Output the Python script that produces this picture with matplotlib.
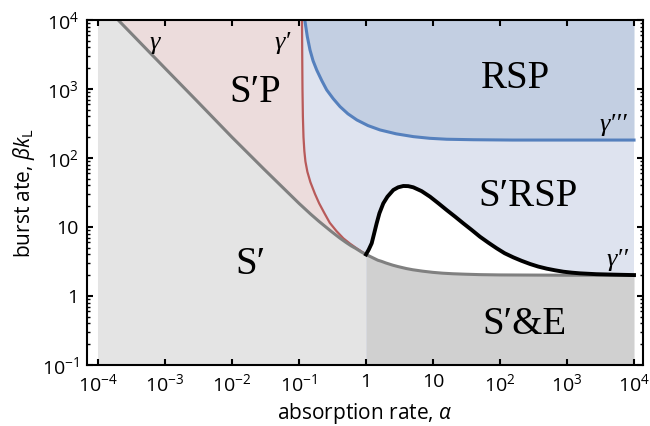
import matplotlib
matplotlib.use("Agg")
import matplotlib.pyplot as plt
import numpy as np

# ---------------- data ----------------
# gamma (grey boundary)
gamma_x = [2e-4, 5e-4, 1e-3, 3e-3, 1e-2, 3e-2, 0.1, 0.15, 0.2, 0.3, 0.4, 0.5, 0.6,
           0.7, 0.85, 1.0, 1.2, 1.5, 1.7, 2, 2.5, 3, 4, 5, 7, 10, 14, 20, 30, 50,
           100, 1e3, 1e4]
gamma_y = [1e4, 4000, 2000, 670, 200, 69, 22, 15.3, 12, 8.7, 7.0, 6.0, 5.33,
           4.9, 4.35, 4.0, 3.67, 3.3, 3.18, 3.0, 2.8, 2.67, 2.5, 2.4, 2.29, 2.2,
           2.14, 2.1, 2.07, 2.04, 2.02, 2.0, 2.0]

# gamma' (red boundary)
gp_x = [0.1109, 0.1117, 0.1127, 0.1143, 0.1167, 0.1202, 0.1247, 0.1334, 0.1479,
        0.173, 0.200, 0.240, 0.288, 0.363, 0.459, 0.575, 0.724, 0.871, 1.0]
gp_y = [1e4, 3162, 1000, 398, 200, 126, 89.1, 63.1, 44.7, 30.2, 22.0, 15.8,
        11.5, 8.71, 6.85, 5.75, 4.91, 4.37, 4.0]

# gamma''' (blue boundary)
gppp_x = [0.122, 0.133, 0.146, 0.162, 0.184, 0.219, 0.259, 0.324, 0.41, 0.537,
          0.73, 1.07, 1.62, 2.82, 5.1, 8.9, 16, 40, 155, 1e4]
gppp_y = [1e4, 5750, 3670, 2570, 1880, 1320, 970, 724, 555, 437, 356, 295, 255,
          224, 204, 193, 187, 184, 182, 182]

# gamma'' (black boundary)
gpp_x = [1.0, 1.096, 1.216, 1.318, 1.442, 1.585, 1.811, 2.089, 2.559, 3.02, 3.606,
         4.27, 5.08, 6.76, 9.02, 12.0, 16.0, 21.4, 28.3, 38.0, 50.2, 67.6, 89.3,
         117, 158, 209, 281, 372, 498, 661, 881, 1175, 1563, 2754, 4920, 1e4]
gpp_y = [4.0, 4.68, 5.81, 7.94, 11.3, 15.8, 22.0, 27.5, 34.4, 37.6, 39.3, 39.1,
         37.6, 33.1, 27.5, 22.1, 17.6, 14.1, 11.3, 9.02, 7.23, 5.89, 4.91, 4.17,
         3.63, 3.24, 2.91, 2.67, 2.49, 2.36, 2.25, 2.18, 2.13, 2.07, 2.04, 2.01]

x_ticks = [1e-4, 1e-3, 1e-2, 1e-1, 1, 10, 1e2, 1e3, 1e4]
x_labels = ['$10^{-4}$', '$10^{-3}$', '$10^{-2}$', '$10^{-1}$', '1', '10',
            '$10^{2}$', '$10^{3}$', '$10^{4}$']
y_ticks = [1e-1, 1, 10, 1e2, 1e3, 1e4]
y_labels = ['$10^{-1}$', '1', '10', '$10^{2}$', '$10^{3}$', '$10^{4}$']

# ---------------- style ----------------
plt.rcParams['font.family'] = ['Open Sans', 'DejaVu Sans']
plt.rcParams['mathtext.fontset'] = 'custom'
plt.rcParams['mathtext.rm'] = 'Open Sans'
plt.rcParams['mathtext.it'] = 'Open Sans:italic'
plt.rcParams['mathtext.bf'] = 'Open Sans:bold'

c_lgray = '#e4e4e4'
c_dgray = '#d0d0d0'
c_pink = '#ecdcdc'
c_lblue = '#dee3ef'
c_dblue = '#c3cfe2'

fig = plt.figure(figsize=(6.5, 4.26), dpi=100)
ax = fig.add_axes([87 / 650, 61 / 426, 556 / 650, 345 / 426])
ax.set_xscale('log')
ax.set_yscale('log')

x0, x1 = x_ticks[0], x_ticks[-1]
y0, y1 = y_ticks[0], y_ticks[-1]

gx = np.array(gamma_x); gy = np.array(gamma_y)
left = gx <= 1
right = gx >= 1

# region fills
ax.axvspan(x0, x1, color=c_lblue, lw=0, zorder=0)
ax.fill_between(gppp_x, gppp_y, y1, color=c_dblue, lw=0, zorder=1)
ax.fill(np.r_[gx[left], gp_x[::-1]], np.r_[gy[left], gp_y[::-1]],
        color=c_pink, lw=0, zorder=1)
ax.fill(np.r_[x0, gx[left], 1, x0], np.r_[y1, gy[left], y0, y0],
        color=c_lgray, lw=0, zorder=1)
ax.fill(np.r_[gpp_x, gx[right][::-1]], np.r_[gpp_y, gy[right][::-1]],
        color='white', lw=0, zorder=1)
ax.fill_between(gx[right], y0, gy[right], color=c_dgray, lw=0, zorder=1)

# boundaries
ax.plot(gp_x, gp_y, color='#b85a5a', lw=1.6, zorder=3)
ax.plot(gppp_x, gppp_y, color='#5580bd', lw=2.2, zorder=3)
ax.plot(gamma_x, gamma_y, color='#808080', lw=2.2, zorder=4)
ax.plot(gpp_x, gpp_y, color='black', lw=2.8, zorder=5)

ax.set_xlim(10 ** -4.164, 10 ** 4.134)
ax.set_ylim(y0, y1)

ax.set_xticks(x_ticks)
ax.set_xticklabels(x_labels)
ax.xaxis.set_minor_locator(matplotlib.ticker.NullLocator())
ax.set_yticks(y_ticks)
ax.set_yticklabels(y_labels)
ax.yaxis.set_minor_locator(matplotlib.ticker.LogLocator(base=10, subs=np.arange(2, 10)))
ax.yaxis.set_minor_formatter(matplotlib.ticker.NullFormatter())
ax.tick_params(which='both', direction='in', top=True, right=True, labelsize=14,
               colors='black')
ax.tick_params(which='major', length=4, width=1.5, pad=6)
ax.tick_params(which='minor', length=2, width=1)
for s in ax.spines.values():
    s.set_linewidth(1.5)
    s.set_zorder(10)

ax.set_xlabel(r'absorption rate, $\alpha$', fontsize=15, labelpad=4)
ax.set_ylabel(r'burst ate, $\beta k_{\mathrm{L}}$', fontsize=15, labelpad=3)

# region names
serif = ['Liberation Serif', 'DejaVu Serif']
for txt, x, y in [('S′P', 255, 93), ('RSP', 515, 79), ('S′RSP', 528, 197),
                  ('S′', 250, 264), ('S′&E', 524, 324)]:
    ax.text(x / 650, 1 - y / 426, txt, transform=fig.transFigure, fontsize=28,
            family=serif, ha='center', va='center', zorder=6)

for txt, x, y in [('γ', 155, 43), ('γ′', 283, 43),
                  ('γ′′′', 613, 125), ('γ′′', 617, 260)]:
    ax.text(x / 650, 1 - y / 426, txt, transform=fig.transFigure, fontsize=19,
            family=serif, style='italic', ha='center', va='center', zorder=6)

fig.savefig('out.png', dpi=100)
